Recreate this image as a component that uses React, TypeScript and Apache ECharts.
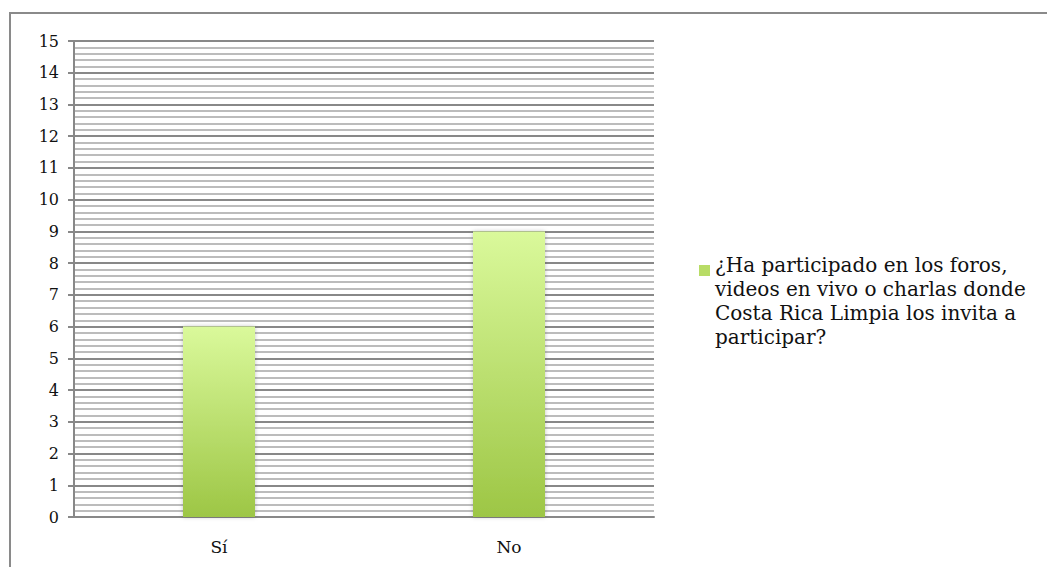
import React, { useEffect, useRef } from "react";
import * as echarts from "echarts";

const categories = ["Sí", "No"];
const values = [6, 9];
const seriesName =
  "¿Ha participado en los foros, videos en vivo o charlas donde Costa Rica Limpia los invita a participar?";
const legendLines = [
  "¿Ha participado en los foros,",
  "videos en vivo o charlas donde",
  "Costa Rica Limpia los invita a",
  "participar?",
];

export default function App() {
  const ref = useRef<HTMLDivElement>(null);
  useEffect(() => {
    document.body.style.margin = "0";
    const chart = echarts.init(ref.current!, null, { renderer: "svg" });
    const font = "'DejaVu Serif', serif";
    chart.setOption({
      animation: false,
      backgroundColor: "#ffffff",
      textStyle: { fontFamily: font },
      graphic: [
        {
          type: "rect",
          shape: { x: 10, y: 13, width: 1100, height: 600 },
          style: { fill: "none", stroke: "#8a8a8a", lineWidth: 2 },
          silent: true,
        },
      ],
      grid: { left: 74, top: 41, width: 580, height: 476, containLabel: false },
      legend: {
        show: true,
        orient: "vertical",
        left: 694,
        top: 248,
        itemWidth: 11,
        itemHeight: 96,
        itemGap: 6,
        icon: "path://M0,0h0.01v0.01h-0.01zM0,12h11v11h-11zM0,95.99h0.01v0.01h-0.01z",
        data: [seriesName],
        formatter: () => legendLines.join("\n"),
        itemStyle: { color: "#b8dc66" },
        textStyle: { fontFamily: font, fontSize: 20, color: "#111", lineHeight: 24 },
      },
      xAxis: {
        type: "category",
        data: categories,
        axisLine: { show: true, lineStyle: { color: "#888", width: 2 } },
        axisTick: { show: false },
        axisLabel: { fontFamily: font, fontSize: 17, color: "#111", margin: 21 },
        splitLine: { show: false },
      },
      yAxis: {
        type: "value",
        min: 0,
        max: 15,
        interval: 1,
        axisLine: { show: true, lineStyle: { color: "#888", width: 2 } },
        axisTick: { show: true, length: 6, lineStyle: { color: "#888", width: 2 } },
        axisLabel: { fontFamily: font, fontSize: 16, color: "#111", margin: 15 },
        splitLine: { show: true, lineStyle: { color: "#888", width: 2 } },
        minorTick: { show: false, splitNumber: 5 },
        minorSplitLine: { show: true, lineStyle: { color: "#bcbcbc", width: 2 } },
      },
      series: [
        {
          name: seriesName,
          type: "bar",
          data: values,
          barWidth: 72,
          itemStyle: {
            color: new echarts.graphic.LinearGradient(0, 0, 0, 1, [
              { offset: 0, color: "#daf99b" },
              { offset: 1, color: "#9dc645" },
            ]),
            shadowColor: "rgba(0,0,0,0.25)",
            shadowBlur: 4,
          },
        },
      ],
    });
    return () => chart.dispose();
  }, []);
  return <div ref={ref} style={{ width: 1047, height: 567 }} />;
}
